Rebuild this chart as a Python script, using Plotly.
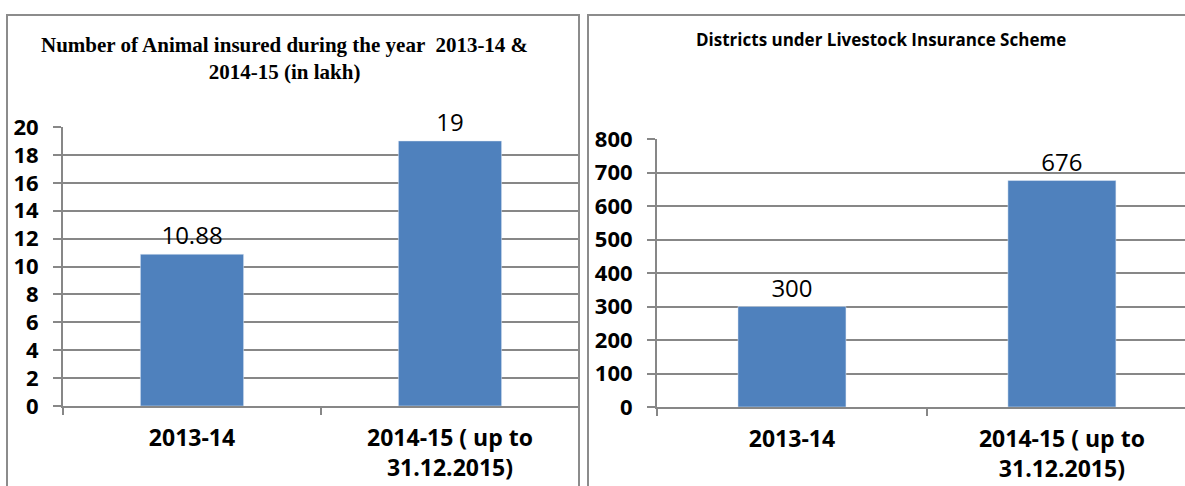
import plotly.graph_objects as go

categories = ["2013-14", "2014-15 ( up to<br>31.12.2015)"]
animals_insured_lakh = [10.88, 19]
districts_covered = [300, 676]
animal_labels = ["10.88", "19"]
district_labels = ["300", "676"]
left_ticks = list(range(0, 21, 2))
right_ticks = list(range(0, 801, 100))

W, H = 1185, 486
BAR = "#4F81BD"
GRID = "#878787"
YTICKFONT = dict(family="Open Sans", size=22, color="black", weight="bold")
XTICKFONT = dict(family="Open Sans", size=23, color="black", weight="bold")
LABELFONT = dict(family="Open Sans", size=24, color="black")

fig = go.Figure()
fig.add_trace(go.Bar(x=categories, y=animals_insured_lakh, width=0.4, marker_color=BAR,
                     text=animal_labels, textposition="outside", textfont=LABELFONT,
                     cliponaxis=False, xaxis="x", yaxis="y", showlegend=False))
fig.add_trace(go.Bar(x=categories, y=districts_covered, width=0.4, marker_color=BAR,
                     text=district_labels, textposition="outside", textfont=LABELFONT,
                     cliponaxis=False, xaxis="x2", yaxis="y2", showlegend=False))

def px_x(v):
    return v / W

def px_y(v):
    return 1 - v / H

xcommon = dict(type="category", showgrid=False, showline=True, linecolor=GRID, linewidth=2,
               ticks="outside", tickson="boundaries", ticklen=7, tickcolor=GRID, tickwidth=2,
               tickfont=XTICKFONT, ticklabelstandoff=10, automargin=False)
ycommon = dict(showgrid=True, gridcolor=GRID, gridwidth=2, showline=True, linecolor=GRID,
               linewidth=2, ticks="outside", ticklen=8, tickcolor=GRID, tickwidth=2,
               tickfont=YTICKFONT, zeroline=False, ticklabelstandoff=10, automargin=False)

fig.update_layout(
    width=W, height=H, margin=dict(l=0, r=0, t=0, b=0, autoexpand=False),
    paper_bgcolor="white", plot_bgcolor="white",
    xaxis=dict(domain=[px_x(63), px_x(579)], anchor="y", range=[-0.5, 1.5], **xcommon),
    yaxis=dict(domain=[px_y(406), px_y(127)], anchor="x", range=[0, 20],
               tickvals=left_ticks, **ycommon),
    xaxis2=dict(domain=[px_x(657), 1.0], anchor="y2", range=[-0.5, 1.456], **xcommon),
    yaxis2=dict(domain=[px_y(407), px_y(139)], anchor="x2", range=[0, 800],
                tickvals=right_ticks, **ycommon),
    shapes=[
        dict(type="rect", xref="paper", yref="paper", x0=px_x(7), x1=px_x(579),
             y0=-0.05, y1=px_y(15), line=dict(color="#8C8C8C", width=2), layer="above"),
        dict(type="rect", xref="paper", yref="paper", x0=px_x(588), x1=1.05,
             y0=-0.05, y1=px_y(15), line=dict(color="#8C8C8C", width=2), layer="above"),
    ],
    annotations=[
        dict(text="<b>Number of Animal insured during the year  2013-14 &<br>2014-15 (in lakh)</b>",
             x=px_x(284), y=px_y(58), xref="paper", yref="paper", showarrow=False,
             xanchor="center", yanchor="middle",
             font=dict(family="Liberation Serif", size=21, color="black"), align="center"),
        dict(text="<b>Districts under Livestock Insurance Scheme</b>",
             x=px_x(881), y=px_y(40), xref="paper", yref="paper", showarrow=False,
             xanchor="center", yanchor="middle",
             font=dict(family="Open Sans", size=17, color="black"), align="center"),
    ],
    bargap=0.6,
)

fig.write_html("out.html", config={"displayModeBar": False},
               post_script="document.body.style.margin='0';document.body.style.overflow='hidden';")
